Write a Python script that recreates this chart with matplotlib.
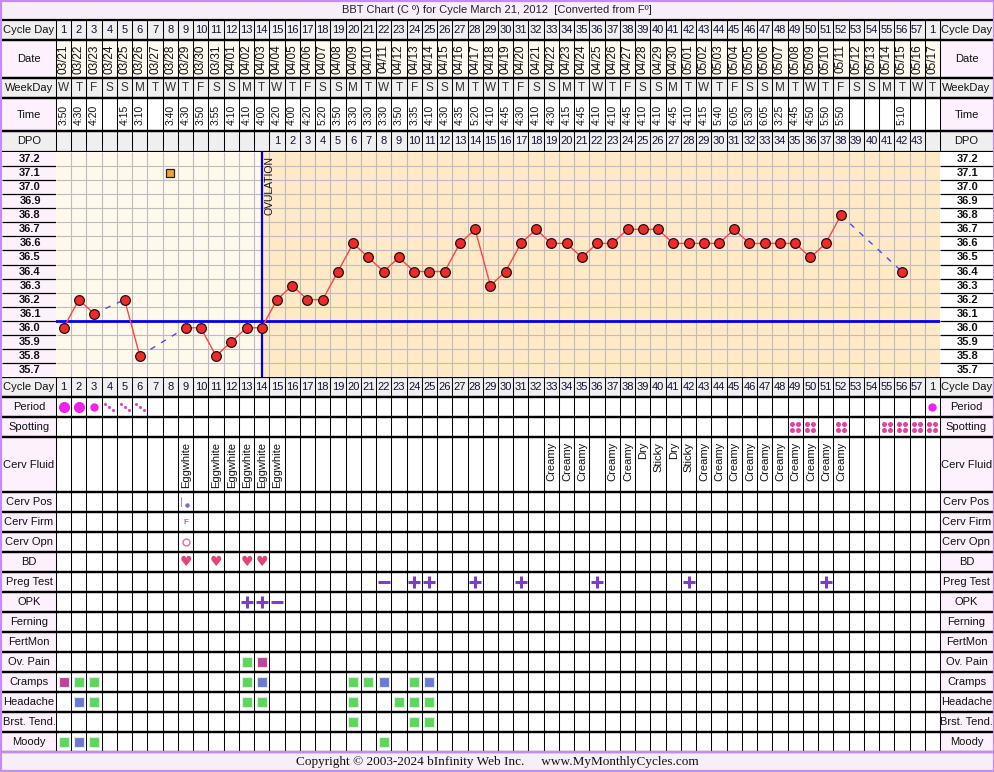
import matplotlib.pyplot as plt
import numpy as np
from matplotlib.patches import Rectangle

plt.rcParams['font.family'] = ['Liberation Sans', 'DejaVu Sans']

# ---------------- chart data ----------------
title = 'BBT Chart (C º) for Cycle March 21, 2012  [Converted from Fº]'
footer = 'Copyright © 2003-2024 bInfinity Web Inc.     www.MyMonthlyCycles.com'

cycle_days = [str(d) for d in range(1, 58)] + ['1']
dates = ['03/21', '03/22', '03/23', '03/24', '03/25', '03/26', '03/27', '03/28', '03/29', '03/30',
         '03/31', '04/01', '04/02', '04/03', '04/04', '04/05', '04/06', '04/07', '04/08', '04/09',
         '04/10', '04/11', '04/12', '04/13', '04/14', '04/15', '04/16', '04/17', '04/18', '04/19',
         '04/20', '04/21', '04/22', '04/23', '04/24', '04/25', '04/26', '04/27', '04/28', '04/29',
         '04/30', '05/01', '05/02', '05/03', '05/04', '05/05', '05/06', '05/07', '05/08', '05/09',
         '05/10', '05/11', '05/12', '05/13', '05/14', '05/15', '05/16', '05/17']
weekdays = list('WTFSSMTWTFSSMTWTFSSMTWTFSSMTWTFSSMTWTFSSMTWTFSSMTWTFSSMTWT')
times = ['3:50', '4:30', '4:20', '', '4:15', '3:10', '', '3:40', '4:30', '3:50',
         '3:55', '4:10', '4:10', '4:00', '4:20', '4:00', '4:20', '5:20', '3:50', '3:30',
         '3:30', '3:30', '3:50', '3:35', '4:10', '4:30', '4:35', '5:20', '4:10', '4:45',
         '4:30', '4:10', '4:30', '4:15', '4:45', '4:10', '4:10', '4:45', '4:10', '4:10',
         '4:45', '4:10', '4:15', '5:40', '6:05', '5:30', '6:05', '3:25', '4:45', '4:50',
         '5:50', '5:50', '', '', '', '5:10', '', '']
dpo = [''] * 14 + [str(d) for d in range(1, 44)] + ['']

nan = np.nan
temps = [36.0, 36.2, 36.1, nan, 36.2, 35.8, nan, nan, 36.0, 36.0,
         35.8, 35.9, 36.0, 36.0, 36.2, 36.3, 36.2, 36.2, 36.4, 36.6,
         36.5, 36.4, 36.5, 36.4, 36.4, 36.4, 36.6, 36.7, 36.3, 36.4,
         36.6, 36.7, 36.6, 36.6, 36.5, 36.6, 36.6, 36.7, 36.7, 36.7,
         36.6, 36.6, 36.6, 36.6, 36.7, 36.6, 36.6, 36.6, 36.6, 36.5,
         36.6, 36.8, nan, nan, nan, 36.4, nan, nan]
temp_ticks = [35.7, 35.8, 35.9, 36.0, 36.1, 36.2, 36.3, 36.4,
              36.5, 36.6, 36.7, 36.8, 36.9, 37.0, 37.1, 37.2]
coverline = 36.05
ovulation_day = 14
flag_day, flag_temp = 8, 37.1

period = {1: 'heavy', 2: 'heavy', 3: 'medium', 4: 'light', 5: 'light', 6: 'light', 58: 'medium'}
spotting_days = [49, 50, 52, 55, 56, 57, 58]
cerv_fluid = {9: 'Eggwhite', 11: 'Eggwhite', 12: 'Eggwhite', 13: 'Eggwhite', 14: 'Eggwhite',
              15: 'Eggwhite', 33: 'Creamy', 34: 'Creamy', 35: 'Creamy', 37: 'Creamy',
              38: 'Creamy', 39: 'Dry', 40: 'Sticky', 41: 'Dry', 42: 'Sticky', 43: 'Creamy',
              44: 'Creamy', 45: 'Creamy', 46: 'Creamy', 47: 'Creamy', 48: 'Creamy',
              49: 'Creamy', 50: 'Creamy', 51: 'Creamy', 52: 'Creamy'}
cerv_pos_days = [9]
cerv_firm_days = [9]
cerv_opn_days = [9]
bd_days = [9, 11, 13, 14]
preg_test = {22: '-', 24: '+', 25: '+', 28: '+', 31: '+', 36: '+', 42: '+', 51: '+'}
opk = {13: '+', 14: '+', 15: '-'}
# symptom severity: 1 mild, 2 moderate, 3 severe
ov_pain = {13: 1, 14: 3}
cramps = {1: 3, 2: 1, 3: 1, 13: 1, 14: 2, 20: 1, 21: 1, 22: 2, 24: 1, 25: 2}
headache = {2: 2, 3: 1, 13: 1, 14: 1, 20: 1, 23: 1, 24: 1, 25: 1}
brst_tend = {20: 1, 24: 1, 25: 1}
moody = {1: 1, 2: 2, 3: 1, 22: 1}

# ---------------- layout (pixels) ----------------
W, H = 995, 772
X0, X1 = 56, 940
ncol = len(cycle_days)
CW = (X1 - X0) / ncol
days = np.arange(1, ncol + 1)


def px2day(p):
    return 0.5 + (p - X0) / CW


LL, LR = px2day(2), 0.5            # left label column
RL, RR = ncol + 0.5, px2day(993)   # right label column

GRAY = '#EFEFEF'
PINK = '#FDF1FD'
CREAM = '#FFFAEF'
PURPLE_BORDER = '#C48CF0'
TEMP_TOP, TEMP_BOT = 152, 377

fig = plt.figure(figsize=(W / 100, H / 100), dpi=100)
fig.patch.set_facecolor('white')
ax = fig.add_axes([0, 0, 1, 1])
ax.set_xlim(px2day(0), px2day(W))
ax.set_ylim(H, 0)
ax.axis('off')


def row(label, y0, y1, cell_bg, label_bg, right_bg=None):
    ax.add_patch(Rectangle((LR, y0), RL - LR, y1 - y0, fc=cell_bg, ec='none', zorder=0))
    ax.add_patch(Rectangle((LL, y0), LR - LL, y1 - y0, fc=label_bg, ec='none', zorder=0))
    ax.add_patch(Rectangle((RL, y0), RR - RL, y1 - y0, fc=right_bg or label_bg, ec='none', zorder=0))
    yc = (y0 + y1) / 2
    ax.text((LL + LR) / 2, yc, label, ha='center', va='center', fontsize=8, color='#111')
    ax.text((RL + RR) / 2, yc, label, ha='center', va='center', fontsize=8, color='#111')
    ax.vlines(np.arange(0.5, ncol + 1.5), y0, y1, color='black', lw=0.75, zorder=2)
    ax.hlines([y0, y1], LL, RR, color='black', lw=1.6, zorder=3)
    return yc


# title and footer bars
ax.add_patch(Rectangle((px2day(0), 0), px2day(W) - px2day(0), 20, fc='#F8EEF8', ec='none', zorder=0))
ax.text(px2day(497), 10, title, ha='center', va='center', fontsize=8, color='#222')
ax.add_patch(Rectangle((px2day(0), 752), px2day(W) - px2day(0), 20, fc='#F8EEF8', ec='none', zorder=0))
ax.text(px2day(497), 762, footer, ha='center', va='center', fontsize=9.5,
        family='Liberation Serif', color='#111')

# header rows
yc = row('Cycle Day', 20, 40, GRAY, GRAY)
for d, s in zip(days, cycle_days):
    ax.text(d, yc, s, ha='center', va='center', fontsize=8, color='#101030')
yc = row('Date', 40, 78, CREAM, PINK)
for d, s in zip(days, dates):
    ax.text(d, yc, s, ha='center', va='center', rotation=90, fontsize=8.5, color='#111')
yc = row('WeekDay', 78, 98, GRAY, GRAY)
for d, s in zip(days, weekdays):
    ax.text(d, yc, s, ha='center', va='center', fontsize=8.5, color='#333')
yc = row('Time', 98, 131, 'white', PINK)
for d, s in zip(days, times):
    ax.text(d, yc, s, ha='center', va='center', rotation=90, fontsize=7.5, color='#111')
yc = row('DPO', 131, TEMP_TOP, GRAY, GRAY)
for d, s in zip(days, dpo):
    ax.text(d, yc, s, ha='center', va='center', fontsize=8, color='#101030')

# ---------------- temperature chart ----------------
tpos_b = 1 - TEMP_BOT / H
tpos_h = (TEMP_BOT - TEMP_TOP) / H
ylo, yhi = temp_ticks[0] - 0.05, temp_ticks[-1] + 0.05
ax_t = fig.add_axes([X0 / W, tpos_b, (X1 - X0) / W, tpos_h])
ax_t.set_xlim(0.5, ncol + 0.5)
ax_t.set_ylim(ylo, yhi)
ax_t.set_axis_off()
ax_t.axvspan(0.5, ovulation_day, color='#FFF9EC', zorder=0)
ax_t.axvspan(ovulation_day, ncol + 0.5, color='#FFE9C6', zorder=0)
bounds = [(a + b) / 2 for a, b in zip(temp_ticks[:-1], temp_ticks[1:])]
ax_t.hlines(bounds, 0.5, ncol + 0.5, color='#BDBDBD', lw=0.8, zorder=1)
ax_t.vlines(np.arange(1.5, ncol + 0.5), ylo, yhi, color='#BDBDBD', lw=0.8, zorder=1)

ax_t.axhline(coverline, color='#0000EE', lw=2, zorder=2)
ax_t.axvline(ovulation_day, color='#0000EE', lw=1.6, zorder=2)
ax_t.text(ovulation_day + 0.2, yhi - 0.03, 'OVULATION', rotation=90, ha='left', va='top',
          fontsize=7.5, color='#111')

temps_arr = np.array(temps)
ax_t.plot(days, temps_arr, color='#FF4444', lw=1, zorder=3)
valid = days[~np.isnan(temps_arr)]
for a, b in zip(valid[:-1], valid[1:]):
    if b - a > 1:
        ax_t.plot([a, b], [temps_arr[a - 1], temps_arr[b - 1]], color='#4A4AF0',
                  lw=1, ls=(0, (4, 5)), zorder=3)
ax_t.plot(days, temps_arr, 'o', mfc='#EE2A2A', mec='#2A1010', ms=7, mew=0.9, zorder=4)
ax_t.plot([flag_day], [flag_temp], 's', mfc='#F6A033', mec='#222', ms=5.5, mew=0.9, zorder=4)

# temperature label columns
for x_px, w_px, bg in [(2, X0 - 2, PINK), (X1, 993 - X1, 'white')]:
    lab = fig.add_axes([x_px / W, tpos_b, w_px / W, tpos_h])
    lab.set_xlim(0, 1)
    lab.set_ylim(ylo, yhi)
    lab.set_axis_off()
    lab.axvspan(0, 1, color=bg, zorder=0)
    lab.hlines(bounds, 0, 1, color='black', lw=0.9)
    for t in temp_ticks:
        lab.text(0.52, t, f'{t:.1f}', ha='center', va='center', fontsize=8,
                 fontweight='bold', color='#111')

# ---------------- observation rows ----------------
LVL_COL = {1: '#5CD65C', 2: '#6C78D8', 3: '#C2409E'}
PLUS_COL = '#7A3FC8'

yc = row('Cycle Day', TEMP_BOT, 397, GRAY, GRAY)
for d, s in zip(days, cycle_days):
    ax.text(d, yc, s, ha='center', va='center', fontsize=8, color='#101030')

yc = row('Period', 397, 417, 'white', PINK)
for d, kind in period.items():
    if kind == 'heavy':
        ax.plot(d, yc, 'o', color='#EE22EE', ms=8, mew=0)
    elif kind == 'medium':
        ax.plot(d, yc, 'o', color='#EE22EE', ms=6, mew=0)
    else:
        ax.plot(d + np.array([-0.26, 0, 0.26]), yc + np.array([-3.4, 0, 3.4]), 'o',
                color='#E040C8', ms=2.2, mew=0)

yc = row('Spotting', 417, 437, 'white', PINK)
for d in spotting_days:
    ax.plot(d + np.array([-0.2, 0.2, -0.2, 0.2]), yc + np.array([-3, -3, 3, 3]), 'o',
            color='#E8409C', ms=3.6, mew=0)

y0, y1 = 437, 492
row('Cerv Fluid', y0, y1, 'white', PINK)
for d, s in cerv_fluid.items():
    ax.text(d + 0.03, y0 + 5, s, rotation=90, ha='center', va='top', fontsize=8, color='#111')

yc = row('Cerv Pos', 492, 512, 'white', PINK)
for d in cerv_pos_days:
    ax.text(d - 0.25, yc, '|', ha='center', va='center', fontsize=8, color='#9B7BD0')
    ax.plot(d + 0.12, yc + 2.5, 'o', color='#8C62C8', ms=3.2, mew=0)

yc = row('Cerv Firm', 512, 532, 'white', PINK)
for d in cerv_firm_days:
    ax.text(d, yc, 'F', ha='center', va='center', fontsize=6, fontweight='bold', color='#A070D0')

yc = row('Cerv Opn', 532, 552, 'white', PINK)
for d in cerv_opn_days:
    ax.plot(d, yc, 'o', mfc='white', mec='#C87AA0', ms=5, mew=1)

yc = row('BD', 552, 572, 'white', PINK)
for d in bd_days:
    ax.text(d, yc, '\u2665', ha='center', va='center', fontsize=10, color='#E0457B',
            family='DejaVu Sans')


def plus_minus(data, yc):
    for d, s in data.items():
        if s == '+':
            ax.plot(d, yc, '+', color=PLUS_COL, ms=8, mew=2.2)
        else:
            ax.plot(d, yc, '_', color=PLUS_COL, ms=9, mew=2.2)


yc = row('Preg Test', 572, 592, 'white', PINK)
plus_minus(preg_test, yc)
yc = row('OPK', 592, 612, 'white', PINK)
plus_minus(opk, yc)
row('Ferning', 612, 632, 'white', PINK)
row('FertMon', 632, 652, 'white', PINK)

for label, data, y0 in [('Ov. Pain', ov_pain, 652), ('Cramps', cramps, 672),
                        ('Headache', headache, 692), ('Brst. Tend.', brst_tend, 712),
                        ('Moody', moody, 732)]:
    yc = row(label, y0, y0 + 20, 'white', PINK)
    for d, lvl in data.items():
        ax.plot(d, yc, 's', mfc=LVL_COL[lvl], mec='#DDEEDD', ms=7, mew=0.8)

# outer purple frame
ax.hlines([1, 752], px2day(0), px2day(W), color=PURPLE_BORDER, lw=1.6, zorder=5)
ax.hlines([771], px2day(0), px2day(W), color=PURPLE_BORDER, lw=1.6, zorder=5)
ax.vlines([px2day(1), px2day(994)], 0, H, color=PURPLE_BORDER, lw=1.6, zorder=5)

fig.savefig('out.png', dpi=100)
